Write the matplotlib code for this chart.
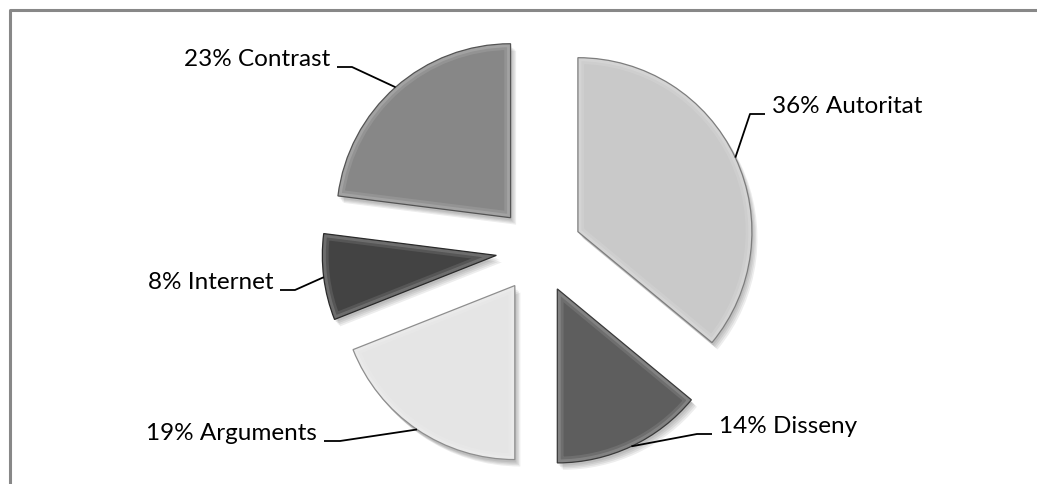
import numpy as np
import matplotlib.pyplot as plt
from matplotlib import patheffects as pe
from matplotlib.colors import to_rgb
from matplotlib.patches import Wedge

labels = ['Autoritat', 'Disseny', 'Arguments', 'Internet', 'Contrast']
shares = [36, 14, 19, 8, 23]
colors = ['#c9c9c9', '#5e5e5e', '#e5e5e5', '#434343', '#878787']

W, H = 1037, 484
fig = plt.figure(figsize=(W / 100, H / 100), dpi=100)
ax = fig.add_axes([0, 0, 1, 1])

# pie centre / radius in pixel units (y measured up from the bottom)
cx, cy, r = 539, H - 250, 174
gap = 43  # explode offset, same units as the radius
wedges, _ = ax.pie(shares, colors=colors, startangle=90, counterclock=False,
                   explode=[gap] * len(shares), center=(cx, cy), radius=r,
                   frame=True, wedgeprops=dict(linewidth=0))

# soft drop shadow built from a few stacked offsets
soft = [pe.SimplePatchShadow(offset=(o, -o - 1), shadow_rgbFace='k', alpha=0.07)
        for o in (1, 2, 3, 4)]
for w, c in zip(wedges, colors):
    w.set_path_effects(soft + [pe.Normal()])
    # bevel: soft light band just inside the edge
    for lw, a in ((9, 0.10), (5, 0.14)):
        rim = Wedge(w.center, w.r, w.theta1, w.theta2, fill=False,
                    edgecolor='white', linewidth=lw, alpha=a, zorder=w.get_zorder() + 0.1)
        ax.add_patch(rim)
        rim.set_clip_path(w)
    dark = tuple(0.62 * v for v in to_rgb(c))
    edge = Wedge(w.center, w.r, w.theta1, w.theta2, fill=False,
                 edgecolor=dark, linewidth=0.9, zorder=w.get_zorder() + 0.2)
    ax.add_patch(edge)

# label layout: elbow x, line end x, line y (pixels from top), side
layout = [(750, 765, 114, 'left'),
          (697, 712, 434, 'left'),
          (340, 324, 441, 'right'),
          (295, 280, 290, 'right'),
          (352, 337, 67, 'right')]

for w, name, val, (ex, tx, ly, side) in zip(wedges, labels, shares, layout):
    mid = np.deg2rad((w.theta1 + w.theta2) / 2)
    ax_, ay_ = w.center[0] + w.r * np.cos(mid), w.center[1] + w.r * np.sin(mid)
    yy = H - ly
    ax.plot([ax_, ex, tx], [ay_, yy, yy], color='black', lw=1.3,
            solid_capstyle='butt', zorder=5)
    txt_x = tx + 7 if side == 'left' else tx - 7
    ax.text(txt_x, yy + 1, f'{val}% {name}', ha=side, va='baseline',
            fontsize=17.5, family='Lato', color='black')

# chart frame (only top and left edges fall inside the image)
ax.plot([9.5, 9.5, W], [0, H - 9.5, H - 9.5], color='#888888', lw=2.2)

ax.set_xlim(0, W)
ax.set_ylim(0, H)
ax.axis('off')
fig.savefig('out.png', dpi=100)
